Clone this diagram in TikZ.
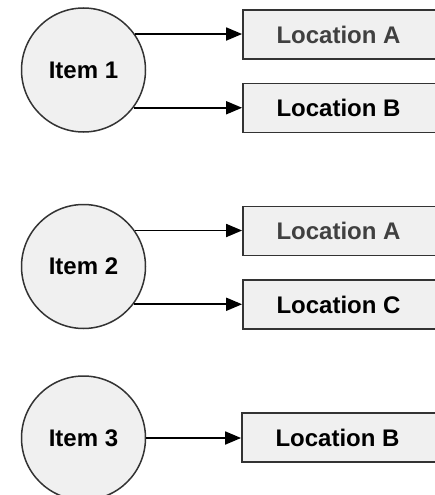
\documentclass[tikz,border=0pt]{standalone}
\usepackage{fontspec}
\setmainfont{Liberation Sans}
\usetikzlibrary{arrows.meta}
\definecolor{fillg}{HTML}{F0F0F0}
\definecolor{edge}{HTML}{333333}
\definecolor{greytext}{HTML}{404040}
\tikzset{
  itemnode/.style={circle, draw=edge, fill=fillg, line width=1.5pt, minimum size=124pt, inner sep=0pt, font=\bfseries\fontsize{24}{27}\selectfont},
  locnode/.style={rectangle, draw=edge, fill=fillg, line width=1.8pt, minimum width=197pt, minimum height=49pt, inner sep=0pt, font=\bfseries\fontsize{24}{27}\selectfont},
  arr/.style={-{Triangle[length=16pt,width=13pt]}, line width=1.8pt, draw=black},
}
\begin{document}
\begin{tikzpicture}[x=1pt,y=-1pt]
\useasboundingbox (0,0) rectangle (435,495);
\clip (0,0) rectangle (435,495);
% Group 1
\node[itemnode] (c1) at (83.5,70) {Item 1};
\node[locnode, text=greytext] (a1) at (341.5,34.5) {\hspace*{-6pt}Location A};
\node[locnode] (b1) at (341.5,108) {\hspace*{-6pt}Location B};
\draw[arr] (c1.35) -- (c1.35 -| a1.west);
\draw[arr] (c1.-37.5) -- (c1.-37.5 -| b1.west);
% Group 2
\node[itemnode] (c2) at (83.5,266.5) {Item 2};
\node[locnode, text=greytext] (a2) at (341.5,231) {\hspace*{-6pt}Location A};
\node[locnode] (cc2) at (341.5,304.5) {\hspace*{-6pt}Location C};
\draw[arr] (c2.35) -- (c2.35 -| a2.west);
\draw[arr] (c2.-37.5) -- (c2.-37.5 -| cc2.west);
% Group 3
\node[itemnode] (c3) at (83.5,438) {Item 3};
\node[locnode] (b3) at (340.5,437.5) {\hspace*{-6pt}Location B};
\draw[arr] (c3.east) -- (c3.east -| b3.west);
\end{tikzpicture}
\end{document}
